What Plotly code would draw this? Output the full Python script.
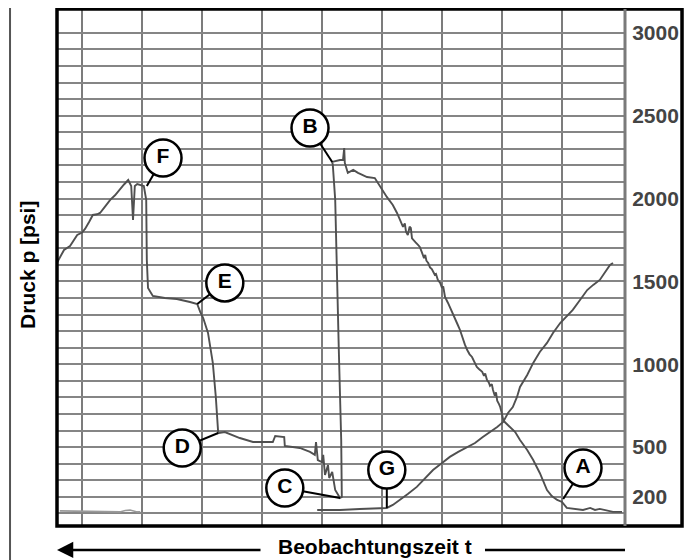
import plotly.graph_objects as go

# ---- data (time in chart divisions, pressure in psi) ----
main_t = [0.58, 0.63, 0.70, 0.80, 0.86, 0.92, 1.00, 1.05, 1.12, 1.18, 1.25, 1.30, 1.38, 1.47, 1.55, 1.63, 1.70, 1.77,
          1.82, 1.85, 1.88, 1.92, 2.03, 2.07, 2.08, 2.10, 2.18, 2.38, 2.58, 2.80, 2.92,
          2.97, 3.02, 3.10, 3.18, 3.23, 3.27, 3.38, 3.63, 3.85, 4.18, 4.22, 4.37, 4.38, 4.63, 4.80, 4.88,
          4.90, 4.93, 5.00, 5.02, 5.05, 5.10, 5.12, 5.17, 5.22, 5.30, 5.33,
          5.32, 5.28, 5.25, 5.22, 5.18, 5.17, 5.30, 5.35, 5.37, 5.38, 5.43, 5.52, 5.60, 5.67, 5.75, 5.88,
          5.97, 6.08, 6.18, 6.25, 6.35, 6.38, 6.40, 6.43, 6.46, 6.48, 6.50, 6.53, 6.56, 6.60, 6.63, 6.66,
          6.70, 6.72, 6.74, 6.77, 6.80, 6.83, 6.85, 6.88, 6.90, 6.93, 6.97, 7.00, 7.02, 7.05, 7.10, 7.14,
          7.18, 7.22, 7.26, 7.30, 7.34, 7.38, 7.42, 7.46, 7.50, 7.54, 7.58, 7.62, 7.67, 7.70, 7.72, 7.75,
          7.78, 7.80, 7.83, 7.85, 7.88, 7.90, 7.92, 7.95, 7.97, 8.00, 8.02, 8.05, 8.08, 8.13, 8.22, 8.30,
          8.42, 8.52, 8.63, 8.75, 8.83, 8.92, 9.00, 9.08, 9.22, 9.35, 9.47, 9.55, 9.63, 9.75, 9.85, 10.00]
main_p = [1611, 1648, 1690, 1714, 1745, 1780, 1795, 1817, 1860, 1901, 1905, 1913, 1950, 1992, 2020, 2058, 2085, 2112,
          2076, 1871, 2076, 2088, 2076, 1992, 1629, 1460, 1412, 1400, 1394, 1376, 1364,
          1316, 1279, 1189, 1008, 803, 585, 591, 555, 531, 531, 567, 561, 507, 495, 471, 453,
          531, 422, 410, 453, 332, 392, 314, 350, 241, 193, 199,
          543, 1086, 1587, 1992, 2203, 2221, 2233, 2233, 2305, 2215, 2155, 2173, 2155, 2142, 2130, 2124,
          2070, 2010, 1961, 1913, 1829, 1850, 1800, 1780, 1830, 1823, 1760, 1750, 1735, 1720, 1708, 1680,
          1641, 1660, 1625, 1611, 1585, 1575, 1557, 1540, 1545, 1510, 1491, 1460, 1470, 1406, 1370, 1340,
          1310, 1270, 1240, 1207, 1160, 1120, 1086, 1060, 1044, 1010, 984, 970, 954, 930, 945, 905,
          890, 870, 880, 845, 810, 830, 780, 760, 742, 700, 664, 650, 640, 622, 591, 543,
          483, 422, 344, 241, 205, 181, 169, 133, 127, 121, 133, 121, 127, 115, 109, 109]

rise_t = [4.92, 5.30, 5.63, 6.08, 6.18, 6.30, 6.43, 6.58, 6.72, 6.85, 7.00, 7.13, 7.27, 7.42, 7.55, 7.68, 7.80,
          7.92, 8.02, 8.10, 8.18, 8.25, 8.30, 8.42, 8.52, 8.63, 8.75, 8.85, 8.97, 9.08, 9.18, 9.30, 9.42,
          9.52, 9.63, 9.72, 9.80, 9.85]
rise_p = [121, 121, 127, 133, 151, 181, 217, 260, 314, 362, 404, 441, 471, 501, 525, 561, 591,
          622, 652, 706, 742, 803, 863, 935, 1008, 1074, 1129, 1189, 1249, 1292, 1328, 1388, 1448,
          1479, 1509, 1557, 1599, 1611]

base_t = [0.63, 1.20, 1.63, 1.72, 1.80, 1.92, 1.97]
base_p = [115, 112, 109, 118, 120, 109, 109]

label_names = ["F", "B", "E", "D", "C", "G", "A"]
label_t = [2.35, 4.80, 3.38, 2.67, 4.38, 6.08, 9.35]
label_p = [2245, 2426, 1491, 495, 253, 362, 374]
anchor_t = [2.08, 5.17, 2.92, 3.27, 5.30, 6.08, 9.02]
anchor_p = [2076, 2221, 1364, 585, 193, 133, 187]

grid_t = [1, 2, 3, 4, 5, 6, 7, 8, 9]
grid_p = list(range(100, 3001, 100))
scale_vals = [200, 500, 1000, 1500, 2000, 2500, 3000]
scale_text = ["200", "500", "1000", "1500", "2000", "2500", "3000"]

x_range = [0.583, 10.05]
y_range = [24, 3144]

curve_color = "#505050"

fig = go.Figure()

fig.add_trace(go.Scatter(x=base_t, y=base_p, mode="lines", yaxis="y2",
                         line=dict(color="#9a9a9a", width=1.6), hoverinfo="skip", showlegend=False))
fig.add_trace(go.Scatter(x=main_t, y=main_p, mode="lines",
                         line=dict(color=curve_color, width=1.9), showlegend=False))
fig.add_trace(go.Scatter(x=rise_t, y=rise_p, mode="lines",
                         line=dict(color=curve_color, width=1.9), showlegend=False))

# leader lines
lx, ly = [], []
for a, b, c, d in zip(label_t, label_p, anchor_t, anchor_p):
    lx += [a, c, None]
    ly += [b, d, None]
fig.add_trace(go.Scatter(x=lx, y=ly, mode="lines", line=dict(color="black", width=2),
                         hoverinfo="skip", showlegend=False))
# circled letters
fig.add_trace(go.Scatter(x=label_t, y=label_p, mode="markers+text", text=label_names,
                         textposition="middle center",
                         textfont=dict(family="Liberation Sans", size=21, color="black", weight="bold"),
                         marker=dict(size=37, color="white", line=dict(color="black", width=2.5)),
                         showlegend=False))

# page body has an 8px margin, so the figure is made 8px smaller and margins shifted
fig.update_layout(
    width=685, height=552, autosize=False,
    margin=dict(l=49, r=68, t=1, b=34, pad=0),
    paper_bgcolor="white", plot_bgcolor="white",
    xaxis=dict(range=x_range, tickvals=grid_t, showticklabels=False, ticks="",
               showgrid=True, gridcolor="#7c7c7c", gridwidth=2, zeroline=False, showline=False),
    yaxis=dict(range=y_range, tickvals=grid_p, showticklabels=False, ticks="",
               showgrid=True, gridcolor="#858585", gridwidth=1.7, zeroline=False, showline=False),
    yaxis2=dict(range=y_range, overlaying="y", side="right", tickvals=scale_vals, ticktext=scale_text,
                showgrid=False, zeroline=False, showline=False, ticks="outside", ticklen=2,
                tickcolor="rgba(0,0,0,0)",
                tickfont=dict(family="Liberation Sans", size=21, color="#444444", weight="bold")),
    font=dict(family="Liberation Sans"),
)

# frames
fig.add_shape(type="rect", xref="paper", yref="paper", x0=-0.0827, x1=1.1109, y0=-0.1, y1=1.0039,
              line=dict(color="#555555", width=2), layer="above")
fig.add_shape(type="rect", xref="paper", yref="paper", x0=0, x1=1.1004, y0=0, y1=1.0,
              line=dict(color="black", width=3.5), layer="above")
fig.add_shape(type="line", xref="paper", yref="paper", x0=1.0, x1=1.0, y0=0, y1=1.0,
              line=dict(color="#7a7a7a", width=3), layer="above")

# axis titles
fig.add_annotation(xref="paper", yref="paper", x=-0.051, y=0.505, text="<b>Druck p [psi]</b>",
                   textangle=-90, showarrow=False, xanchor="center", yanchor="middle",
                   font=dict(size=21, color="black"))
fig.add_annotation(xref="paper", yref="paper", x=0.56, y=-0.0406, text="<b>Beobachtungszeit t</b>",
                   showarrow=False, xanchor="center", yanchor="middle", borderpad=0,
                   font=dict(size=21, color="black"))
fig.add_annotation(xref="paper", yref="paper", x=0.0, y=-0.0464, text="", showarrow=True,
                   ax=205, ay=0, axref="pixel", ayref="pixel", arrowhead=2, arrowsize=1.3,
                   arrowwidth=2.5, arrowcolor="black")
fig.add_shape(type="line", xref="paper", yref="paper", x0=0.7535, x1=1.0, y0=-0.0464, y1=-0.0464,
              line=dict(color="black", width=2.5))

fig.write_html("out.html")
